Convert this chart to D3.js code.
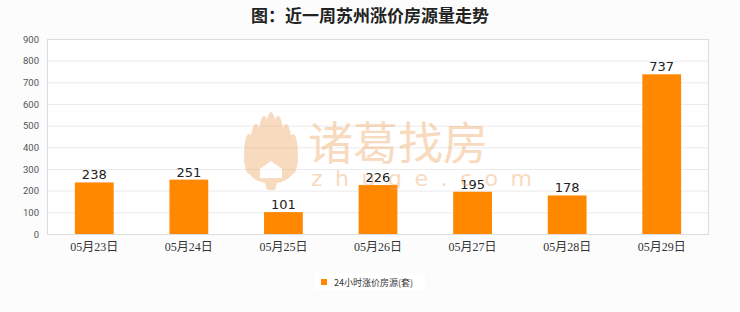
<!DOCTYPE html>
<html>
<head>
<meta charset="utf-8">
<script src="https://cdn.jsdelivr.net/npm/d3@7"></script>
<style>
body { margin: 0; background: #fcfcfc; }
svg { display: block; }
</style>
</head>
<body>
<div id="chart"></div>
<script>
const width = 740, height = 312;

// donnees
const dates = ["05月23日", "05月24日", "05月25日", "05月26日", "05月27日", "05月28日", "05月29日"];
const valeurs = [238, 251, 101, 226, 195, 178, 737];
const yTicks = [0, 100, 200, 300, 400, 500, 600, 700, 800, 900];
const titre = "图：近一周苏州涨价房源量走势";
const legende = "24小时涨价房源(套)";

const margin = {top: 39, right: 31, bottom: 78, left: 47};
const plotW = width - margin.left - margin.right;
const plotH = height - margin.top - margin.bottom;

let svg = d3.select("#chart").append("svg")
	.attr("width", width)
	.attr("height", height);

svg.append("text")
	.attr("x", width / 2)
	.attr("y", 22)
	.attr("text-anchor", "middle")
	.style("font-family", "'Noto Sans CJK SC'")
	.style("font-size", "17px")
	.style("font-weight", "bold")
	.style("fill", "#222")
	.text(titre);

let x = d3.scaleBand().domain(dates).range([0, plotW]).paddingInner(0.59).paddingOuter(0.295);
let y = d3.scaleLinear().domain([0, 900]).range([plotH, 0]);

let g = svg.append("g").attr("transform", `translate(${margin.left},${margin.top})`);

g.append("rect")
	.attr("width", plotW)
	.attr("height", plotH)
	.style("fill", "#fff");

// grille
g.selectAll("line.grid")
	.data(yTicks)
	.enter()
	.append("line")
	.attr("class", "grid")
	.attr("x1", 0).attr("x2", plotW)
	.attr("y1", d => y(d) + 0.5).attr("y2", d => y(d) + 0.5)
	.style("stroke", "#ebebeb")
	.style("stroke-width", 1);

// watermark
let wm = svg.append("g").style("opacity", 0.42);
wm.append("text")
	.attr("x", 308).attr("y", 160)
	.style("font-family", "'Noto Sans CJK SC'")
	.style("font-size", "45px")
	.style("fill", "#f0a868")
	.text("诸葛找房");
wm.append("text")
	.attr("x", 311).attr("y", 186)
	.style("font-family", "'DejaVu Sans'")
	.style("font-size", "22px")
	.style("letter-spacing", "12.5px")
	.style("fill", "#f0a868")
	.text("zhuge.com");
let lotus = wm.append("g").attr("transform", "translate(271,150)").style("fill", "#f0a868");
[[-22, 4, 5, 20], [-15, 0, 6, 26], [-7, -4, 6, 30], [0, -6, 6, 32], [7, -4, 6, 30], [15, 0, 6, 26], [22, 4, 5, 20]].forEach(p => {
	lotus.append("ellipse")
		.attr("cx", p[0]).attr("cy", p[1])
		.attr("rx", p[2]).attr("ry", p[3]);
});
lotus.append("path")
	.attr("d", "M-27,10 Q-24,30 -6,33 L-4,40 L4,40 L6,33 Q24,30 27,10 Z");
lotus.append("path")
	.attr("d", "M-11,28 L-11,19 L0,11 L11,19 L11,28 Z")
	.style("fill", "#fff");

// barres
g.selectAll("rect.bar")
	.data(valeurs)
	.enter()
	.append("rect")
	.attr("class", "bar")
	.attr("x", (d, i) => x(dates[i]))
	.attr("y", d => y(d))
	.attr("width", x.bandwidth())
	.attr("height", d => plotH - y(d))
	.style("fill", "#ff8800");

g.selectAll("text.val")
	.data(valeurs)
	.enter()
	.append("text")
	.attr("class", "val")
	.attr("x", (d, i) => x(dates[i]) + x.bandwidth() / 2)
	.attr("y", d => y(d) - 3)
	.attr("text-anchor", "middle")
	.style("font-family", "'DejaVu Sans'")
	.style("font-size", "13px")
	.style("fill", "#222")
	.text(d => d);

// cadre
g.append("rect")
	.attr("x", 0.5).attr("y", 0.5)
	.attr("width", plotW - 1).attr("height", plotH)
	.style("fill", "none")
	.style("stroke", "#dcdcdc");

// axe y
g.selectAll("text.ytick")
	.data(yTicks)
	.enter()
	.append("text")
	.attr("class", "ytick")
	.attr("x", -8)
	.attr("y", d => y(d) + 3.5)
	.attr("text-anchor", "end")
	.style("font-family", "Roboto")
	.style("font-size", "9.5px")
	.style("fill", "#555")
	.text(d => d);

// axe x
g.selectAll("text.xtick")
	.data(dates)
	.enter()
	.append("text")
	.attr("class", "xtick")
	.attr("x", d => x(d) + x.bandwidth() / 2)
	.attr("y", plotH + 17)
	.attr("text-anchor", "middle")
	.style("font-family", "'Liberation Serif', 'Noto Sans CJK SC'")
	.style("font-size", "12px")
	.style("fill", "#333")
	.text(d => d);

// legende
let leg = svg.append("g").attr("transform", "translate(315,273)");
leg.append("rect")
	.attr("width", 110).attr("height", 17)
	.style("fill", "#fff");
leg.append("rect")
	.attr("x", 6).attr("y", 6)
	.attr("width", 6).attr("height", 6)
	.style("fill", "#ff8800");
leg.append("text")
	.attr("x", 19).attr("y", 12.5)
	.style("font-family", "'Noto Sans CJK SC'")
	.style("font-size", "9px")
	.style("fill", "#333")
	.text(legende);
</script>
</body>
</html>
